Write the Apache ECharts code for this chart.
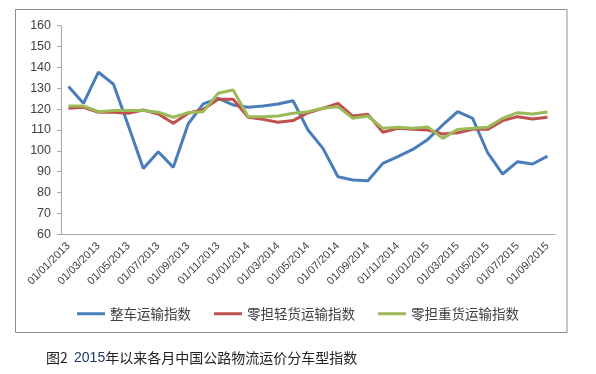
<!DOCTYPE html>
<html><head><meta charset="utf-8">
<script src="https://cdn.jsdelivr.net/npm/echarts@6/dist/echarts.min.js"></script>
<style>html,body{margin:0;padding:0;background:#fff}#c{width:596px;height:374px}</style>
</head><body><div id="c"></div>
<script>
var categories = ["01/01/2013","01/02/2013","01/03/2013","01/04/2013","01/05/2013","01/06/2013","01/07/2013","01/08/2013","01/09/2013","01/10/2013","01/11/2013","01/12/2013",
"01/01/2014","01/02/2014","01/03/2014","01/04/2014","01/05/2014","01/06/2014","01/07/2014","01/08/2014","01/09/2014","01/10/2014","01/11/2014","01/12/2014",
"01/01/2015","01/02/2015","01/03/2015","01/04/2015","01/05/2015","01/06/2015","01/07/2015","01/08/2015","01/09/2015"];
var seriesNames = ["整车运输指数","零担轻货运输指数","零担重货运输指数"];
var wholeTruck = [130.8,122.8,137.7,132.0,112.0,91.6,99.6,92.1,113.0,122.5,125.2,122.0,120.9,121.5,122.5,124.0,110.0,101.2,87.6,86.0,85.7,94.0,97.2,100.7,105.5,112.4,118.8,115.6,99.1,88.9,94.8,93.7,97.5];
var lessLight = [120.4,120.9,118.5,118.5,118.0,119.6,117.7,113.2,118.0,119.9,124.7,124.7,116.1,115.1,113.7,114.5,118.3,120.4,122.8,116.7,117.5,108.9,110.8,110.3,110.0,108.1,108.7,110.3,110.3,114.5,116.4,115.3,116.1];
var lessHeavy = [121.5,121.5,118.8,119.4,119.4,119.3,118.5,116.1,118.3,118.8,127.6,129.2,116.4,116.4,116.7,118.0,118.8,120.4,121.2,115.6,116.7,110.8,111.3,110.8,111.5,106.0,110.3,110.8,111.3,115.6,118.3,117.7,118.6];
var yMin = 60, yMax = 160, yStep = 10;

var chart = echarts.init(document.getElementById('c'), null, {renderer:'canvas'});
var colors = ['#4a7ebb','#c0504d','#9bbb59'];
var datas = [wholeTruck, lessLight, lessHeavy];
chart.setOption({
  animation:false,
  color: colors,
  grid:{left:61,right:41,top:25.7,bottom:139.7,containLabel:false},
  legend:{
    left:'center', top:302,
    itemWidth:28, itemHeight:3, itemGap:23,
    icon:'rect',
    textStyle:{fontSize:13.5,color:'#404040',fontFamily:'Noto Sans CJK SC'},
    data:seriesNames
  },
  xAxis:{
    type:'category', data:categories, boundaryGap:true,
    axisLine:{lineStyle:{color:'#a6a6a6',width:1}},
    axisTick:{interval:1,length:5,lineStyle:{color:'#a6a6a6'}},
    axisLabel:{interval:1,rotate:45,fontSize:11,color:'#404040',margin:10,fontFamily:'Liberation Sans'}
  },
  yAxis:{
    type:'value', min:yMin, max:yMax, interval:yStep,
    axisLine:{show:true,lineStyle:{color:'#a6a6a6',width:1}},
    axisTick:{show:true,length:4,lineStyle:{color:'#a6a6a6'}},
    splitLine:{show:false},
    axisLabel:{fontSize:12.5,color:'#404040',margin:10,fontFamily:'Liberation Sans'}
  },
  series: seriesNames.map(function(n,i){return {
    name:n, type:'line', data:datas[i], symbol:'none', smooth:false,
    lineStyle:{width:3,color:colors[i]}, z:2+i
  };}),
  graphic:[
    {type:'rect',shape:{x:15.5,y:9.5,width:551.5,height:323},style:{fill:null,stroke:'#8c8c8c',lineWidth:1},silent:true,z:-1},
    {type:'text',left:46,top:351,style:{
      text:'{a|图2  }{b|2015}{a|年以来各月中国公路物流运价分车型指数}',
      rich:{a:{fontSize:14,fill:'#222',fontFamily:'Noto Sans CJK SC'},b:{fontSize:14,fill:'#1f3864',fontFamily:'Liberation Sans'}}
    }}
  ]
});
</script></body></html>
